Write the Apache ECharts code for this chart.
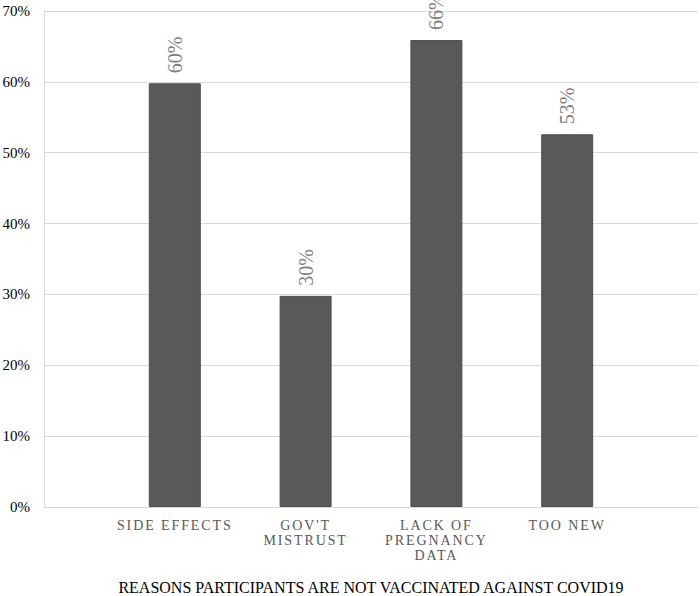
<!DOCTYPE html>
<html>
<head>
<meta charset="utf-8">
<script src="https://cdn.jsdelivr.net/npm/echarts@6/dist/echarts.min.js"></script>
<style>
html,body{margin:0;padding:0;background:#fff;}
#c{width:700px;height:596px;}
#c text{font-family:"Liberation Serif",serif !important;}
</style>
</head>
<body>
<div id="c"></div>
<script>
// Categories (empty slots at both ends for the plot padding)
var categories = ['', 'SIDE EFFECTS', "GOV'T\nMISTRUST", 'LACK OF\nPREGNANCY\nDATA', 'TOO NEW', ''];
var values = [null, 59.8, 29.8, 65.9, 52.6, null];
var yTicks = [0, 10, 20, 30, 40, 50, 60, 70];
var titleText = 'REASONS PARTICIPANTS ARE NOT VACCINATED AGAINST COVID19';

var FONT = 'Liberation Serif';
var chart = echarts.init(document.getElementById('c'), null, {renderer: 'svg'});
chart.setOption({
  animation: false,
  backgroundColor: '#fff',
  title: {
    text: titleText,
    left: 371,
    textAlign: 'center',
    top: 579,
    padding: 0,
    textStyle: {fontFamily: FONT, fontSize: 16, fontWeight: 'normal', color: '#000'}
  },
  grid: {left: 44, right: 2, top: 11, bottom: 89, containLabel: false, outerBoundsMode: 'none'},
  xAxis: {
    type: 'category',
    data: categories,
    boundaryGap: false,
    axisLine: {show: true, lineStyle: {color: '#d9d9d9', width: 1}},
    axisTick: {show: false},
    splitLine: {show: false},
    axisLabel: {
      interval: 0,
      margin: 11,
      fontFamily: FONT,
      fontSize: 14,
      lineHeight: 15,
      color: '#595958',
      align: 'center'
    }
  },
  yAxis: {
    type: 'value',
    min: yTicks[0],
    max: yTicks[yTicks.length - 1],
    interval: 10,
    axisLine: {show: true, lineStyle: {color: '#d9d9d9', width: 1}},
    axisTick: {show: false},
    splitLine: {show: true, lineStyle: {color: '#d9d9d9', width: 1}},
    axisLabel: {
      margin: 14,
      fontFamily: FONT,
      fontSize: 15,
      color: '#000',
      formatter: '{value}%'
    }
  },
  series: [{
    type: 'bar',
    data: values,
    barWidth: 52,
    itemStyle: {color: '#595959', borderColor: '#4f4f4f', borderWidth: 1},
    label: {
      show: true,
      position: 'top',
      distance: 10,
      rotate: 90,
      align: 'left',
      verticalAlign: 'middle',
      fontFamily: FONT,
      fontSize: 20,
      color: '#7f7f7f',
      formatter: function (p) { return Math.round(p.value) + '%'; }
    }
  }]
});

// letter spacing for category labels
function spaceLabels() {
  var lines = {};
  categories.forEach(function (c) { c.split('\n').forEach(function (l) { if (l) lines[l] = 1; }); });
  var texts = document.querySelectorAll('#c text');
  texts.forEach(function (t) {
    var s = t.textContent;
    if (lines[s]) t.style.letterSpacing = '1.9px';
  });
}
chart.on('finished', spaceLabels);
spaceLabels();
</script>
</body>
</html>
